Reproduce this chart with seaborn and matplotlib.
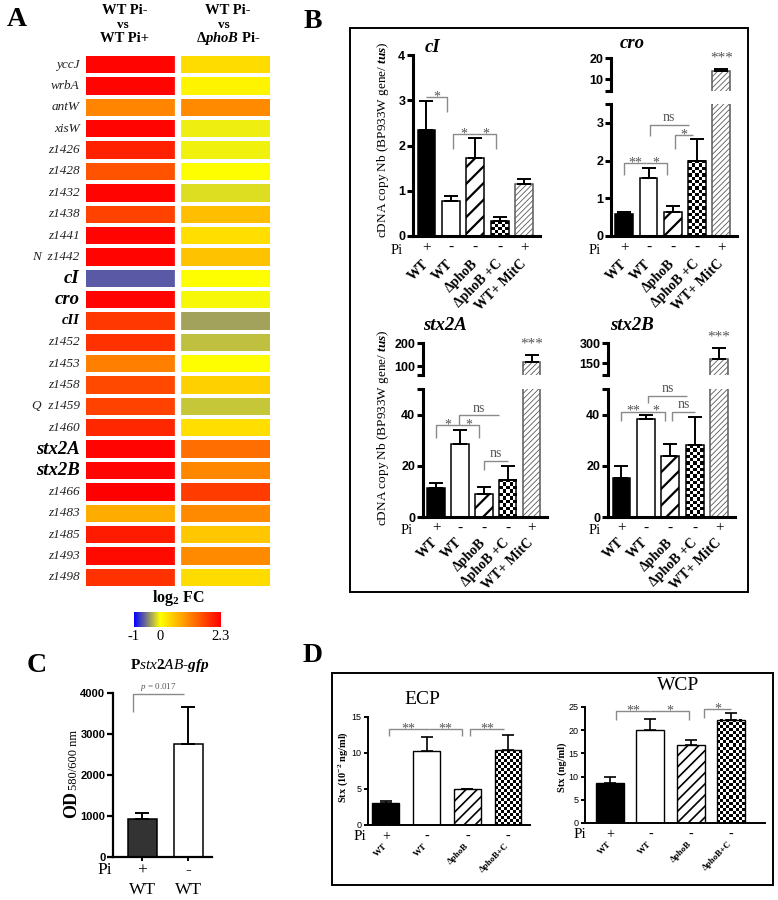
import numpy as np
import pandas as pd
import matplotlib
matplotlib.use("Agg")
import matplotlib.pyplot as plt
import seaborn as sns
from matplotlib.colors import LinearSegmentedColormap
from matplotlib.patches import Rectangle

# ---------------- data: panel A (log2 fold change heatmap) ----------------
genes = ["yccJ", "wrbA", "antW", "xisW", "z1426", "z1428", "z1432", "z1438", "z1441",
         "N  z1442", "cI", "cro", "cII", "z1452", "z1453", "z1458", "Q  z1459", "z1460",
         "stx2A", "stx2B", "z1466", "z1483", "z1485", "z1493", "z1498"]
fc_wt_pi = [2.25, 2.25, 1.1, 2.25, 2.0, 1.55, 2.25, 1.7, 2.25, 2.25, -0.65, 2.25, 1.8,
            1.85, 1.15, 1.65, 1.7, 1.95, 2.25, 2.25, 2.3, 0.75, 2.05, 2.2, 1.85]
fc_wt_phob = [0.32, 0.1, 1.05, -0.06, -0.05, 0.0, -0.13, 0.58, 0.3, 0.55, 0.0, -0.03, -0.36,
              -0.25, 0.0, 0.42, -0.22, 0.3, 1.3, 1.08, 1.76, 1.05, 0.5, 1.05, 0.32]
heat_cols = ["WT Pi- vs WT Pi+", "WT Pi- vs ΔphoB Pi-"]
cbar_ticks = [-1, 0, 2.3]

# ---------------- data: panel B (cDNA copy number) ----------------
cond_B = ["WT", "WT", "ΔphoB", "ΔphoB +C", "WT+ MitC"]
pi_B = ["+", "-", "-", "-", "+"]
kind_B = ["black", "white", "hatch", "checker", "fine"]
cI_mean = [2.34, 0.77, 1.72, 0.33, 1.16]
cI_err = [0.64, 0.12, 0.44, 0.10, 0.11]
cro_mean = [0.58, 1.55, 0.63, 2.0, 14.0]
cro_err = [0.05, 0.24, 0.17, 0.57, 0.7]
stx2A_mean = [11.5, 28.4, 9.1, 14.6, 119.0]
stx2A_err = [1.7, 5.6, 2.8, 5.3, 29.0]
stx2B_mean = [15.3, 38.2, 23.9, 28.1, 180.0]
stx2B_err = [4.8, 1.8, 4.5, 11.0, 82.0]

# significance brackets: (x1, x2, y, left drop, right drop, label)
sig_cI = [(0, 0.85, 3.08, 0, 0.34, "*"), (1.1, 2.0, 2.25, 0.33, 0, "*"), (2.0, 2.85, 2.25, 0, 0.33, "*")]
sig_cro = [(0, 0.88, 1.93, 0.31, 0, "**"), (0.88, 1.76, 1.93, 0, 0.31, "*"),
           (1.06, 2.65, 2.94, 0.30, 0, "ns"), (2.1, 2.85, 2.69, 0.37, 0, "*")]
sig_stx2A = [(0, 0.95, 35.8, 4.8, 0, "*"), (0.95, 1.8, 35.8, 0, 4.8, "*"),
             (0.95, 2.65, 39.7, 3.9, 0, "ns"), (2.0, 3.0, 21.8, 3.3, 0, "ns")]
sig_stx2B = [(0, 1.0, 41.2, 3.8, 0, "**"), (1.0, 1.8, 41.2, 0, 3.8, "*"),
             (1.1, 2.68, 47.4, 3.0, 0, "ns"), (2.08, 3.0, 41.2, 3.8, 0, "ns")]

# ---------------- data: panel C ----------------
cond_C = ["WT", "WT"]
pi_C = ["+", "-"]
kind_C = ["dark", "white"]
gfp_mean = [930, 2760]
gfp_err = [145, 890]
sig_C = [(-0.19, 0.91, 3975, 430, 0, "$p$ = 0.017")]

# ---------------- data: panel D ----------------
cond_D = ["WT", "WT", "ΔphoB", "ΔphoB+C"]
pi_D = ["+", "-", "-", "-"]
kind_D = ["black", "white", "hatch", "checker"]
ecp_mean = [3.05, 10.3, 5.0, 10.35]
ecp_err = [0.3, 1.95, 0.0, 2.2]
wcp_mean = [8.6, 20.0, 16.9, 22.3]
wcp_err = [1.3, 2.4, 1.0, 1.3]
sig_ecp = [(0.07, 1.05, 13.3, 1.0, 0, "**"), (1.05, 1.87, 13.3, 0, 1.0, "**"),
           (2.07, 2.91, 13.3, 1.0, 0, "**")]
sig_wcp = [(0.15, 1.0, 24.1, 2.0, 0, "**"), (1.0, 1.96, 24.1, 0, 2.0, "*"),
           (2.33, 3.0, 24.6, 1.9, 0, "*")]

# ---------------- style ----------------
sns.set_theme(style="white")
plt.rcParams.update({
    "font.family": ["Liberation Serif", "DejaVu Serif"],
    "mathtext.fontset": "custom",
    "mathtext.rm": "Liberation Serif:bold",
    "mathtext.it": "Liberation Serif:italic",
    "mathtext.bf": "Liberation Serif:bold",
    "mathtext.bfit": "Liberation Serif:italic:bold",
    "axes.edgecolor": "black",
    "text.color": "black",
    "axes.labelcolor": "black",
    "xtick.color": "black",
    "ytick.color": "black",
    "figure.facecolor": "white",
    "axes.facecolor": "white",
})

W, H = 778, 900
fig = plt.figure(figsize=(W / 100, H / 100), dpi=100)


def add_ax(x0, y0, x1, y1):
    return fig.add_axes([x0 / W, 1 - y1 / H, (x1 - x0) / W, (y1 - y0) / H])


def ftext(x, y, s, **kw):
    return fig.text(x / W, 1 - y / H, s, **kw)


def frame(x0, y0, x1, y1, lw=1.4):
    fig.add_artist(Rectangle((x0 / W, 1 - y1 / H), (x1 - x0) / W, (y1 - y0) / H,
                             transform=fig.transFigure, fill=False, ec="black", lw=lw))


def set_hlw(p, lw):
    if hasattr(p, "set_hatch_linewidth"):
        p.set_hatch_linewidth(lw)


def bars(ax, means, errs, kinds, width, elw=1.4, cap=5, eclw=1.1, heavy=1.6, fine=0.6,
         heavy_hatch="//"):
    x = np.arange(len(means))
    sns.barplot(x=x, y=means, color="white", saturation=1, width=width, errorbar=None,
                edgecolor="black", linewidth=eclw, ax=ax)
    patches = list(ax.patches)
    for p, k in zip(patches, kinds):
        if k == "black":
            p.set_facecolor("black")
        elif k == "dark":
            p.set_facecolor("#333333")
        elif k == "white":
            p.set_facecolor("white")
        elif k == "hatch":
            p.set_facecolor("white")
            p.set_hatch(heavy_hatch)
            set_hlw(p, heavy)
        elif k == "fine":
            p.set_facecolor("white")
            p.set_edgecolor("#5a5a5a")
            p.set_hatch("//////")
            set_hlw(p, fine)
        elif k == "checker":
            p.set_facecolor("none")
    ax.errorbar(x, means, yerr=[np.zeros(len(errs)), errs], fmt="none", ecolor="black",
                elinewidth=elw, capsize=cap, capthick=elw, zorder=3)
    return patches


def add_checker(ax, patches, kinds, cell=3.3):
    xl, yl = ax.get_xlim(), ax.get_ylim()
    for p, k in zip(patches, kinds):
        if k != "checker":
            continue
        x0, w = p.get_x(), p.get_width()
        y0, h = p.get_y(), p.get_height()
        y0c, y1c = max(y0, yl[0]), min(y0 + h, yl[1])
        if y1c <= y0c:
            continue
        (px0, py0), (px1, py1) = ax.transData.transform([(x0, y0c), (x0 + w, y1c)])
        nx = max(1, int(round(abs(px1 - px0) / cell)))
        ny = max(1, int(round(abs(py1 - py0) / cell)))
        board = np.indices((ny, nx)).sum(axis=0) % 2
        ax.imshow(board, cmap="gray", vmin=0, vmax=1, extent=[x0, x0 + w, y0c, y1c],
                  origin="lower", aspect="auto", interpolation="nearest", zorder=0.9)
    ax.set_xlim(xl)
    ax.set_ylim(yl)


def setup_y(ax, ticks, labels, lw, fs, weight="bold", length=4):
    ax.set_yticks(ticks)
    ax.set_yticklabels(labels, fontsize=fs, fontweight=weight, fontfamily="Liberation Sans")
    ax.tick_params(axis="y", left=True, direction="out", length=length, width=lw, pad=1.5,
                   color="black")
    ax.spines["left"].set_linewidth(lw)


def pi_row(ax, pis, dy, fs):
    for i, s in enumerate(pis):
        ax.annotate(s, xy=(i, 0), xycoords=("data", "axes fraction"), xytext=(0, -dy),
                    textcoords="offset points", ha="center", va="center", fontsize=fs,
                    annotation_clip=False)


def brackets(ax, specs, fs, color="#8a8a8a", lw=1.0):
    for x1, x2, y, dl, dr, txt in specs:
        ax.plot([x1, x1, x2, x2], [y - dl, y, y, y - dr], color=color, lw=lw,
                clip_on=False, zorder=4, solid_capstyle="butt")
        star = "*" in txt
        ax.annotate(txt, xy=((x1 + x2) / 2, y), xytext=(0, 0 if star else 0.5),
                    textcoords="offset points", ha="center",
                    va="center" if star else "bottom", fontsize=fs, color="#555555",
                    annotation_clip=False)


# ================= Panel A =================
ftext(17, 20, "A", fontsize=20, fontweight="bold", ha="center", va="center")
heat = pd.DataFrame({heat_cols[0]: fc_wt_pi, heat_cols[1]: fc_wt_phob}, index=genes)
fc_cmap = LinearSegmentedColormap.from_list(
    "fc", [(0.0, "#0000ff"), (1 / 3.3, "#ffff00"), (1.0, "#ff0000")])
axA = add_ax(84, 54, 272, 588)
cax = add_ax(134, 612, 221, 627)
sns.heatmap(heat, ax=axA, cmap=fc_cmap, vmin=-1, vmax=2.3, linewidths=1.6, linecolor="white",
            xticklabels=False, yticklabels=genes, cbar_ax=cax,
            cbar_kws={"orientation": "horizontal", "ticks": cbar_ticks})
axA.axvline(1, color="white", lw=4.5)
axA.set_ylabel("")
axA.tick_params(axis="y", length=0, pad=3)
big = {"cI", "cro", "stx2A", "stx2B"}
for t in axA.get_yticklabels():
    s = t.get_text()
    t.set_rotation(0)
    t.set_fontfamily("Liberation Serif")
    t.set_fontstyle("italic")
    t.set_color("#222222")
    if s in big:
        t.set_fontsize(13.5)
        t.set_fontweight("bold")
        t.set_color("black")
    elif s == "cII":
        t.set_fontsize(10.5)
        t.set_fontweight("bold")
        t.set_color("black")
    else:
        t.set_fontsize(9.5)

cb = axA.collections[0].colorbar
cb.outline.set_visible(False)
cb.set_ticklabels(["-1", "0", "2.3"])
cax.tick_params(axis="x", length=0, pad=2, labelsize=10.5)
ftext(178, 598, r"log$_2$ FC", ha="center", va="center", fontsize=11.5, fontweight="bold")

hdr = dict(ha="center", va="center", fontsize=10.5, fontweight="bold")
vs = dict(ha="center", va="center", fontsize=9.5, fontweight="bold")
ftext(125, 11, "WT Pi-", **hdr)
ftext(123, 24.5, "vs", **vs)
ftext(125, 38, "WT Pi+", **hdr)
ftext(228, 11, "WT Pi-", **hdr)
ftext(224, 24.5, "vs", **vs)
ftext(228, 38.5, r"Δ$\mathbfit{phoB}$ Pi-", **hdr)

# ================= Panel B =================
ftext(313, 22, "B", fontsize=20, fontweight="bold", ha="center", va="center")
frame(350, 28, 748, 592)
XL_B = (-0.55, 4.65)
LW_B = 2.2
title_kw = dict(ha="center", va="center", fontsize=13.5, fontweight="bold", fontstyle="italic")
ylab_B = "cDNA copy Nb (BP933W gene/ $\\mathbfit{tus}$)"


def lower_B(ax, means, errs, lim, ticks, labels, sig, pad_lab=18.5, pad_pi=8.5):
    patches = bars(ax, means, errs, kind_B, 0.73)
    ax.set_xlim(XL_B)
    ax.set_ylim(lim)
    sns.despine(ax=ax)
    setup_y(ax, ticks, labels, LW_B, 9)
    ax.spines["bottom"].set_linewidth(LW_B)
    ax.set_xticks(range(len(cond_B)))
    ax.set_xticklabels(cond_B, rotation=45, ha="right", va="center", rotation_mode="anchor",
                       fontsize=10, fontweight="bold", fontfamily="Liberation Serif")
    ax.tick_params(axis="x", length=0, pad=pad_lab)
    pi_row(ax, pi_B, pad_pi, 11)
    brackets(ax, sig, 10)
    add_checker(ax, patches, kind_B)


def upper_B(ax, means, errs, lim, ticks, labels):
    patches = bars(ax, means, errs, kind_B, 0.73)
    ax.set_xlim(XL_B)
    ax.set_ylim(lim)
    sns.despine(ax=ax, bottom=True)
    setup_y(ax, ticks, labels, LW_B, 9)
    ax.set_xticks([])
    i = len(means) - 1
    ax.annotate("***", xy=(i, means[i] + errs[i]), xytext=(0, 3), textcoords="offset points",
                ha="center", va="bottom", fontsize=11, color="#555555", annotation_clip=False)
    add_checker(ax, patches, kind_B)


# cI
ax = add_ax(413, 55, 540, 236)
lower_B(ax, cI_mean, cI_err, (0, 4), [0, 1, 2, 3, 4], ["0", "1", "2", "3", "4"], sig_cI)
ftext(433, 48, "cI", **title_kw)
ftext(397, 250, "Pi", fontsize=10.5, ha="center", va="center")
ftext(383, 140, ylab_B, rotation=90, ha="center", va="center", fontsize=9.5)

# cro
ax = add_ax(611, 104, 737, 236)
lower_B(ax, cro_mean, cro_err, (0, 3.5), [0, 1, 2, 3, 3.5], ["0", "1", "2", "3", ""], sig_cro)
ax = add_ax(611, 58, 737, 91)
upper_B(ax, cro_mean, cro_err, (4.3, 20), [4.3, 10, 20], ["", "10", "20"])
ftext(632, 44, "cro", **title_kw)
ftext(595, 250, "Pi", fontsize=10.5, ha="center", va="center")

# stx2A
ax = add_ax(423, 389, 547, 517)
lower_B(ax, stx2A_mean, stx2A_err, (0, 50), [0, 20, 40, 50], ["0", "20", "40", ""], sig_stx2A,
        pad_lab=17, pad_pi=8)
ax = add_ax(423, 343, 547, 375)
upper_B(ax, stx2A_mean, stx2A_err, (61, 200), [61, 100, 200], ["", "100", "200"])
ftext(445, 326, "stx2A", **title_kw)
ftext(407, 530, "Pi", fontsize=10.5, ha="center", va="center")
ftext(383, 428, ylab_B, rotation=90, ha="center", va="center", fontsize=9.5)

# stx2B
ax = add_ax(608, 389, 735, 517)
lower_B(ax, stx2B_mean, stx2B_err, (0, 50), [0, 20, 40, 50], ["0", "20", "40", ""], sig_stx2B,
        pad_lab=17, pad_pi=8)
ax = add_ax(608, 343, 735, 375)
upper_B(ax, stx2B_mean, stx2B_err, (60, 300), [60, 150, 300], ["", "150", "300"])
ftext(632, 326, "stx2B", **title_kw)
ftext(595, 530, "Pi", fontsize=10.5, ha="center", va="center")

# ================= Panel C =================
ftext(37, 665, "C", fontsize=20, fontweight="bold", ha="center", va="center")
axC = add_ax(113, 693, 212, 857)
pC = bars(axC, gfp_mean, gfp_err, kind_C, 0.63, elw=1.4, cap=4.7)
axC.set_xlim(-0.63, 1.52)
axC.set_ylim(0, 4000)
sns.despine(ax=axC)
setup_y(axC, [0, 1000, 2000, 3000, 4000], ["0", "1000", "2000", "3000", "4000"], 1.6, 8)
axC.spines["bottom"].set_linewidth(1.6)
axC.set_xticks(range(len(cond_C)))
axC.set_xticklabels(cond_C, fontsize=12.5, fontfamily="Liberation Serif")
axC.tick_params(axis="x", bottom=True, length=3, width=1.4, pad=15, direction="out")
pi_row(axC, pi_C, 9.5, 12.5)
brackets(axC, sig_C, 6.5)
ftext(105, 870, "Pi", fontsize=12.5, ha="center", va="center")
ftext(170, 665, r"P$\mathit{stx2AB}$-$\mathbfit{gfp}$", ha="center", va="center",
      fontsize=11, fontweight="bold")
ftext(72, 818, "OD", rotation=90, ha="center", va="bottom", fontsize=13, fontweight="bold")
ftext(74, 790, "580/600 nm", rotation=90, ha="center", va="bottom", fontsize=9)

# ================= Panel D =================
ftext(313, 655, "D", fontsize=20, fontweight="bold", ha="center", va="center")
frame(332, 673, 773, 885)


def panel_D(ax, means, errs, xl, lim, ticks, sig, width):
    patches = bars(ax, means, errs, kind_D, width, elw=1.2, cap=4.3, eclw=1.0, heavy=1.2,
                   heavy_hatch="///")
    ax.set_xlim(xl)
    ax.set_ylim(lim)
    sns.despine(ax=ax)
    setup_y(ax, ticks, [str(t) for t in ticks], 1.4, 6.5, weight="normal", length=3)
    ax.spines["bottom"].set_linewidth(1.4)
    ax.set_xticks(range(len(cond_D)))
    ax.set_xticklabels(cond_D, rotation=45, ha="right", va="center", rotation_mode="anchor",
                       fontsize=6.5, fontweight="bold", fontfamily="Liberation Serif")
    ax.tick_params(axis="x", length=0, pad=14)
    pi_row(ax, pi_D, 8.5, 10)
    brackets(ax, sig, 10)
    add_checker(ax, patches, kind_D, cell=3.0)


axE = add_ax(368, 717, 530, 825)
panel_D(axE, ecp_mean, ecp_err, (-0.44, 3.54), (0, 15), [0, 5, 10, 15], sig_ecp, 0.66)
ftext(422, 700, "ECP", fontsize=14, ha="center", va="center")
ftext(360, 837, "Pi", fontsize=11, ha="center", va="center")
ftext(343, 767, "Stx (10$^{-2}$ ng/ml)", rotation=90, ha="center", va="center", fontsize=7.5,
      fontweight="bold")

axW = add_ax(585, 707, 765, 823)
panel_D(axW, wcp_mean, wcp_err, (-0.62, 3.84), (0, 25), [0, 5, 10, 15, 20, 25], sig_wcp, 0.69)
ftext(678, 686, "WCP", fontsize=14, ha="center", va="center")
ftext(580, 835, "Pi", fontsize=11, ha="center", va="center")
ftext(562, 767, "Stx (ng/ml)", rotation=90, ha="center", va="center", fontsize=7.5,
      fontweight="bold")

fig.savefig("out.png", dpi=100, facecolor="white")
